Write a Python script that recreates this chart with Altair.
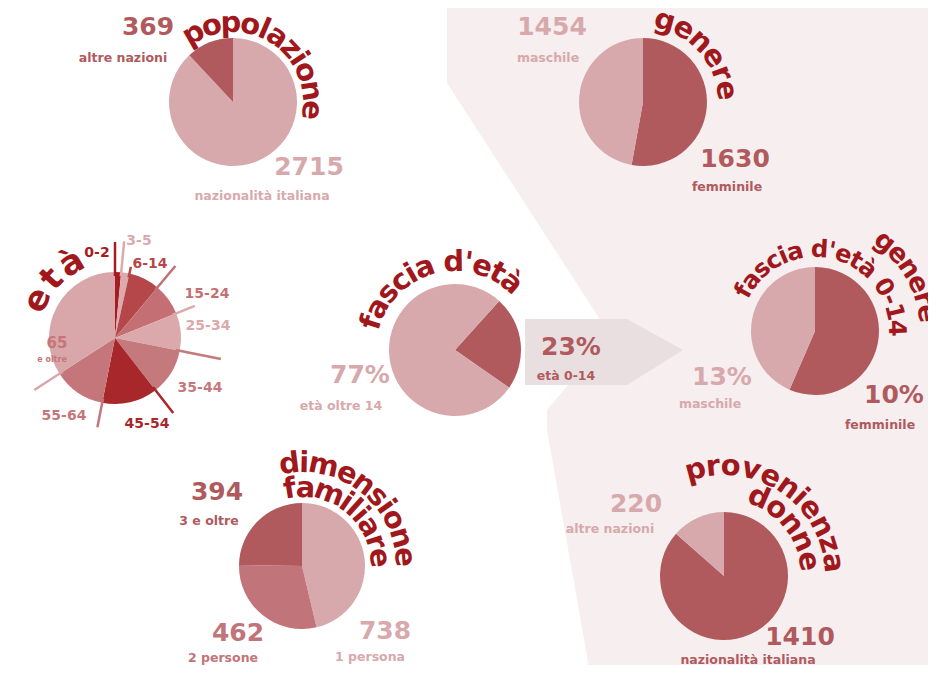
import math
import altair as alt
import pandas as pd

OFF = 8  # page margin

# ---------------- data ----------------
pop_labels = ["nazionalità italiana", "altre nazioni"]
pop_values = [2715, 369]
gen_labels = ["femminile", "maschile"]
gen_values = [1630, 1454]
eta_labels = ["0-2", "3-5", "6-14", "15-24", "25-34", "35-44", "45-54", "55-64", "65 e oltre"]
eta_values = [1.5, 2.0, 7.6, 7.8, 9.2, 11.4, 13.6, 12.8, 34.1]
fas_labels = ["età 0-14", "età oltre 14"]
fas_values = [23, 77]
fg_labels = ["femminile", "maschile"]
fg_values = [13, 10]
dim_labels = ["1 persona", "2 persone", "3 e oltre"]
dim_values = [738, 462, 394]
don_labels = ["nazionalità italiana", "altre nazioni"]
don_values = [1410, 220]

LIGHT = "#d8a9ac"
DARK = "#b05a5e"
MED = "#c17479"
TITLE = "#a0171c"
BG = "#f6eeef"
ARROW = "#e9dfe0"
FONT = "DejaVu Sans"

eta_colors = ["#a51d22", "#dcaaad", "#b5474b", "#c46f73", "#dba9ab",
              "#c47a7d", "#a8272b", "#c5767a", "#d9a6a9"]

# pies: (labels, values, colors, centre x, centre y, radius, start angle deg)
pies = [
    (pop_labels, pop_values, [LIGHT, DARK], 233, 102, 64, 0),
    (gen_labels, gen_values, [DARK, LIGHT], 643, 102, 64, 0),
    (eta_labels, eta_values, eta_colors, 115, 338, 66, 0),
    (fas_labels, fas_values, [DARK, LIGHT], 455, 350, 66, 42),
    (fg_labels, fg_values, [DARK, LIGHT], 815, 331, 64, 0),
    (dim_labels, dim_values, [LIGHT, MED, DARK], 302, 566, 63, 0),
    (don_labels, don_values, [DARK, LIGHT], 724, 576, 64, 0),
]

# background shape (left boundary of the pink zone)
bg_y = [0, 83, 335, 410, 430, 673]
bg_x = [447, 447, 610, 547, 547, 590]
# arrow box
ar_y = [319, 350, 385]
ar_x2 = [627, 683, 627]

# curved titles: text, cx, cy, radius, first-char angle, last-char angle, max size
titles = [
    ("popolazione", 233, 102, 79, -30, 96, 29),
    ("genere", 643, 102, 84, 15, 82, 29),
    ("età", 115, 338, 86, -64, -30, 34),
    ("fascia d'età", 455, 350, 88, -72, 40, 29),
    ("fascia d'età 0-14", 815, 331, 81, -61, 88, 26),
    ("genere", 815, 331, 113, 38, 81, 27),
    ("familiare", 302, 566, 78, -9, 84, 29),
    ("dimensione", 302, 566, 103, -7, 85, 29),
    ("provenienza", 724, 576, 110, -15, 83, 29),
    ("donne", 724, 576, 86, 24, 80, 29),
]

NUM, SUB = 25, 12.5
# labels: text, centre x, baseline y, size, colour
labels = [
    ("369", 148, 35, NUM, DARK), ("altre nazioni", 123, 62, SUB, DARK),
    ("2715", 309, 175, NUM, LIGHT), ("nazionalità italiana", 262, 200, SUB, LIGHT),
    ("1454", 552, 35, NUM, LIGHT), ("maschile", 548, 62, SUB, LIGHT),
    ("1630", 735, 167, NUM, DARK), ("femminile", 727, 191, SUB, DARK),
    ("77%", 360, 383, NUM, LIGHT), ("età oltre 14", 341, 410, SUB, LIGHT),
    ("23%", 571, 355, NUM, DARK), ("età 0-14", 566, 380, SUB, DARK),
    ("13%", 722, 385, NUM, LIGHT), ("maschile", 710, 408, SUB, LIGHT),
    ("10%", 894, 403, NUM, DARK), ("femminile", 880, 429, SUB, DARK),
    ("394", 217, 500, NUM, DARK), ("3 e oltre", 209, 525, SUB, DARK),
    ("462", 238, 641, NUM, MED), ("2 persone", 223, 662, SUB, MED),
    ("738", 385, 639, NUM, LIGHT), ("1 persona", 370, 661, SUB, LIGHT),
    ("220", 636, 512, NUM, LIGHT), ("altre nazioni", 610, 533, SUB, LIGHT),
    ("1410", 800, 645, NUM, DARK), ("nazionalità italiana", 748, 664, SUB, DARK),
]
eta_text = [
    ("0-2", 97, 257, 14, "#a51d22"), ("3-5", 139, 245, 14, "#dcaaad"),
    ("6-14", 150, 268, 14, "#b5474b"), ("15-24", 207, 298, 14, "#c46f73"),
    ("25-34", 208, 330, 14, "#dba9ab"), ("35-44", 200, 392, 14, "#c47a7d"),
    ("45-54", 147, 428, 14, "#a8272b"), ("55-64", 64, 420, 14, "#c5767a"),
    ("65", 57, 348, 15, "#c5767a"), ("e oltre", 52, 362, 8, "#c5767a"),
]
# leader line outer radii for the età slices
eta_line_r = [96, 97, 73, 94, 86, 108, 95, 91, 96]

# ---------------- build ----------------
W, H = 920, 657
XS = alt.X("x:Q", scale=None, axis=None)
YS = alt.Y("y:Q", scale=None, axis=None)

bg_df = pd.DataFrame({"y": [v - OFF for v in bg_y], "x": [v - OFF for v in bg_x],
                      "x2": [936 - OFF] * len(bg_y)})
bg = alt.Chart(bg_df).mark_area(orient="horizontal", color=BG, interpolate="linear").encode(
    y=YS, x=XS, x2="x2:Q")

ar_df = pd.DataFrame({"y": [v - OFF for v in ar_y], "x": [525 - OFF] * 3,
                      "x2": [v - OFF for v in ar_x2]})
arrow = alt.Chart(ar_df).mark_area(orient="horizontal", color=ARROW).encode(
    y=YS, x=XS, x2="x2:Q")

layers = [bg, arrow]

for labs, vals, cols, cx, cy, r, a0 in pies:
    df = pd.DataFrame({"lab": labs, "v": vals, "c": cols, "o": list(range(len(labs))),
                       "x": [cx - OFF] * len(labs), "y": [cy - OFF] * len(labs)})
    s = math.radians(a0)
    layers.append(alt.Chart(df).mark_arc(radius=r).encode(
        theta=alt.Theta("v:Q", stack=True, scale=alt.Scale(range=[s, s + 2 * math.pi])),
        color=alt.Color("c:N", scale=None),
        order=alt.Order("o:Q"),
        x=XS, y=YS))

# età leader lines at slice starts
tot = sum(eta_values)
cum = 0
rows = []
for v, c, ro in zip(eta_values, eta_colors, eta_line_r):
    a = math.radians(cum / tot * 360)
    rows.append({"x": 115 - OFF + 62 * math.sin(a), "y": 338 - OFF - 62 * math.cos(a),
                 "x2": 115 - OFF + ro * math.sin(a), "y2": 338 - OFF - ro * math.cos(a), "c": c})
    cum += v
lines = alt.Chart(pd.DataFrame(rows)).mark_rule(strokeWidth=2.5).encode(
    x=XS, y=YS, x2="x2:Q", y2="y2:Q", color=alt.Color("c:N", scale=None))
layers.append(lines)

# curved titles (DejaVu Sans Bold advance widths, em)
CW = {"i": 0.34, "l": 0.34, "'": 0.33, " ": 0.35, "t": 0.48, "f": 0.43, "r": 0.49,
      "m": 1.04, "z": 0.58, "s": 0.6, "c": 0.59, "-": 0.42}

trows = []
for text, cx, cy, R, a0, a1, cap in titles:
    ws = [CW.get(ch, 0.69) for ch in text]
    centres, acc = [], 0.0
    for w in ws:
        centres.append(acc + w / 2)
        acc += w
    c0, cn = centres[0], centres[-1]
    arc_len = R * math.radians(a1 - a0)
    fs = min(cap, arc_len / (cn - c0) * 1.02)
    for ch, p in zip(text, centres):
        th = a0 + (p - c0) / (cn - c0) * (a1 - a0)
        t = math.radians(th)
        trows.append({"x": cx - OFF + R * math.sin(t), "y": cy - OFF - R * math.cos(t),
                      "ch": ch, "ang": th % 360, "fs": fs})
tit = alt.Chart(pd.DataFrame(trows)).mark_text(
    font=FONT, fontWeight="bold", color=TITLE, align="center", baseline="middle"
).encode(x=XS, y=YS, text="ch:N", angle=alt.Angle("ang:Q", scale=None),
         size=alt.Size("fs:Q", scale=None))
layers.append(tit)

lab_df = pd.DataFrame([{"t": t, "x": x - OFF, "y": y - OFF, "s": s, "c": c}
                       for t, x, y, s, c in labels + eta_text])
labs_layer = alt.Chart(lab_df).mark_text(
    font=FONT, fontWeight="bold", align="center", baseline="alphabetic"
).encode(x=XS, y=YS, text="t:N", size=alt.Size("s:Q", scale=None),
         color=alt.Color("c:N", scale=None))
layers.append(labs_layer)

chart = alt.layer(*layers).resolve_scale(theta="independent").properties(
    width=W, height=H, autosize=alt.AutoSizeParams(type="none"), padding=0,
    background="white"
).configure_view(strokeWidth=0)

chart.save("out.html", embed_options={"renderer": "svg", "actions": False})
